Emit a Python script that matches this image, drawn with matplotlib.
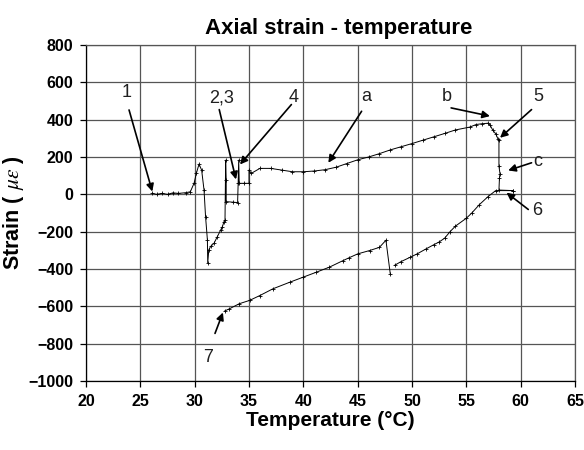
import numpy as np
import matplotlib
matplotlib.use("Agg")
import matplotlib.pyplot as plt

plt.rcParams['font.family'] = ['Liberation Sans', 'DejaVu Sans']
plt.rcParams['mathtext.fontset'] = 'stix'

# heating branch (temperature in C, strain in microstrain)
heat_T = [26.1, 26.5, 27.0, 27.5, 28.0, 28.5, 29.2, 29.6, 29.94, 30.15, 30.4, 30.64,
          30.86, 31.0, 31.17, 31.2, 31.3, 31.47, 31.78, 32.09, 32.4, 32.55, 32.7, 32.79,
          32.85, 32.9, 32.9, 33.5, 33.95, 34.0, 34.05, 34.1, 34.5, 35.0, 35.0, 35.2,
          36.0, 37.0, 38.0, 39.0, 40.0, 41.0, 42.0, 43.0, 44.0, 45.0, 46.0, 47.0,
          48.0, 49.0, 50.0, 51.0, 52.0, 53.0, 54.0, 55.3, 55.9, 56.4, 57.0, 57.2,
          57.45, 57.7, 57.9, 58.0, 58.0, 58.1, 58.05, 58.0, 59.3]
heat_S = [5, 0, 5, 0, 8, 5, 9, 14, 59, 112, 162, 130,
          23, -119, -244, -368, -297, -279, -262, -226, -190, -173, -146, -137,
          183, 77, -39, -42, -44, 59, 183, 59, 59, 59, 130, 112,
          139, 139, 130, 121, 121, 125, 132, 145, 165, 185, 200, 218,
          238, 255, 272, 290, 308, 326, 345, 360, 374, 378, 381, 369,
          342, 325, 298, 289, 150, 110, 90, 23, 20]

# cooling branch
cool_T = [59.3, 57.7, 57.0, 56.2, 55.5, 55.0, 54.0, 53.5, 53.0, 52.5, 52.0, 51.3,
          50.5, 49.8, 49.0, 48.4, np.nan, 48.0, 47.6, 47.0, 46.1, 45.0, 44.2, 43.65,
          42.4, 41.2, 39.97, 38.74, 37.2, 36.0, 35.06, 34.1, 33.2, 32.76]
cool_S = [20, 20, -12, -55, -100, -128, -170, -200, -235, -255, -270, -292,
          -318, -338, -360, -380, np.nan, -426, -246, -284, -301, -319, -340, -355,
          -390, -417, -444, -471, -506, -542, -568, -586, -613, -625]

labels = ['1', '2,3', '4', 'a', 'b', '5', 'c', '6', '7']
label_pos = [(23.74, 543), (32.5, 517), (39.07, 517), (45.8, 526), (53.2, 526),
             (61.6, 526), (61.6, 178), (61.5, -89), (31.25, -874)]
arrow_tail = [(23.96, 452), (32.26, 454), (38.9, 481), (45.36, 445), (53.6, 463),
              (61.0, 454), (61.0, 169), (60.7, -81), (31.87, -745)]
arrow_tip = [(26.1, 15), (33.8, 80), (34.17, 160), (42.3, 169), (57.17, 419),
             (58.1, 303), (58.85, 128), (58.7, 9), (32.6, -633)]

fig = plt.figure(figsize=(5.84, 4.5), dpi=100)
ax = fig.add_axes([0.1473, 0.1533, 0.8373, 0.7467])

ax.plot(heat_T, heat_S, color="black", lw=0.7, marker="+", ms=3, mew=0.6)
ax.plot(cool_T, cool_S, color="black", lw=0.7, marker="+", ms=3, mew=0.6)

for lab, p, tail, tip in zip(labels, label_pos, arrow_tail, arrow_tip):
    ax.annotate("", xy=tip, xytext=tail,
                arrowprops=dict(arrowstyle="-|>", color="black", lw=1.2,
                                mutation_scale=11, shrinkA=0, shrinkB=0))
    ax.text(p[0], p[1], lab, fontsize=13, ha="center", va="center", color="#202020")

ax.set_xlim(20, 65)
ax.set_ylim(-1000, 800)
ax.set_xticks(np.arange(20, 66, 5))
ax.set_yticks(np.arange(-1000, 801, 200))
ax.grid(True, color="#555555", lw=0.9)
for s in ax.spines.values():
    s.set_color("#555555")
    s.set_linewidth(0.9)
ax.spines['left'].set_color("black")
ax.spines['bottom'].set_color("black")
ax.tick_params(direction="out", length=4, width=0.9, pad=5, labelsize=11.5)
for t in ax.get_xticklabels() + ax.get_yticklabels():
    t.set_fontweight("bold")

ax.set_title("Axial strain - temperature", fontsize=16, fontweight="bold", pad=8, x=0.516)
ax.set_xlabel("Temperature (°C)", fontsize=15, fontweight="bold", labelpad=2)
ax.set_ylabel(r"Strain ( $\mu\varepsilon$ )", fontsize=15.5, fontweight="bold", labelpad=2)

fig.savefig("out.png", dpi=100)
